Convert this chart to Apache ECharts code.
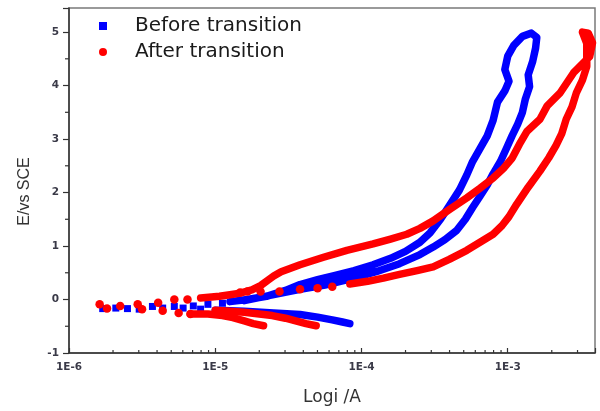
<!DOCTYPE html>
<html>
<head>
<meta charset="utf-8">
<script src="https://cdn.jsdelivr.net/npm/echarts@6/dist/echarts.min.js"></script>
<style>html,body{margin:0;padding:0;background:#fff;}#c{width:600px;height:411px;}</style>
</head>
<body>
<div id="c"></div>
<script>
// ---- data: [current (A), potential (V vs SCE)] ----
const seriesNames = ['Before transition', 'After transition'];

const beforeDots = [[1.70e-6,-0.17],[2.09e-6,-0.16],[2.51e-6,-0.17],[3.02e-6,-0.18],[3.72e-6,-0.13],[4.37e-6,-0.16],
  [5.25e-6,-0.13],[6.03e-6,-0.16],[7.08e-6,-0.12],[7.94e-6,-0.18],[8.91e-6,-0.09],[1.12e-5,-0.07]];
const beforeCathodic = [[1.0e-5,-0.2],[1.58e-5,-0.22],[2.51e-5,-0.25],[3.80e-5,-0.28],[5.01e-5,-0.33],
  [6.31e-5,-0.38],[7.41e-5,-0.42],[8.32e-5,-0.45]];
const beforeLoop = [[1.26e-5,-0.04],[1.66e-5,0.0],[2.24e-5,0.06],[3.02e-5,0.17],[3.80e-5,0.28],[5.01e-5,0.37],
  [6.61e-5,0.45],[8.91e-5,0.54],[1.20e-4,0.65],[1.58e-4,0.77],[2.00e-4,0.9],[2.51e-4,1.07],[2.95e-4,1.25],
  [3.47e-4,1.5],[3.98e-4,1.75],[4.68e-4,2.05],[5.25e-4,2.33],[5.75e-4,2.58],[6.46e-4,2.82],[7.24e-4,3.06],
  [7.94e-4,3.35],[8.51e-4,3.69],[9.55e-4,3.9],[1.02e-3,4.08],[9.55e-4,4.3],[1.00e-3,4.55],[1.10e-3,4.75],
  [1.26e-3,4.92],[1.45e-3,4.98],[1.58e-3,4.9],[1.55e-3,4.7],[1.48e-3,4.45],[1.38e-3,4.2],[1.41e-3,3.98],
  [1.32e-3,3.75],[1.26e-3,3.5],[1.17e-3,3.28],[1.07e-3,3.06],[9.77e-4,2.82],[8.91e-4,2.58],[7.94e-4,2.35],
  [7.24e-4,2.14],[6.46e-4,1.93],[5.75e-4,1.72],[5.13e-4,1.5],[4.47e-4,1.29],[3.72e-4,1.12],[3.09e-4,0.98],
  [2.51e-4,0.84],[1.82e-4,0.67],[1.26e-4,0.52],[8.32e-5,0.38],[5.62e-5,0.27],[3.80e-5,0.19],[2.51e-5,0.09],
  [1.58e-5,-0.02]];

const afterDots = [[1.62e-6,-0.09],[1.82e-6,-0.17],[2.24e-6,-0.12],[2.95e-6,-0.09],[3.16e-6,-0.18],
  [4.07e-6,-0.06],[4.37e-6,-0.21],[5.25e-6,0.0],[5.62e-6,-0.25],[6.46e-6,0.0],[6.76e-6,-0.27],
  [1.48e-5,0.13],[1.66e-5,0.15],[2.04e-5,0.15],[2.75e-5,0.15],[3.80e-5,0.19],[5.01e-5,0.21],[6.31e-5,0.24]];
const afterLoop = [[7.94e-6,0.03],[1.07e-5,0.06],[1.26e-5,0.09],[1.48e-5,0.12],[1.78e-5,0.18],[2.04e-5,0.26],
  [2.29e-5,0.36],[2.51e-5,0.44],[2.82e-5,0.52],[3.24e-5,0.58],[3.80e-5,0.65],[4.57e-5,0.72],[5.50e-5,0.79],
  [7.94e-5,0.92],[1.20e-4,1.04],[1.58e-4,1.13],[2.04e-4,1.22],[2.51e-4,1.33],[3.09e-4,1.47],[3.98e-4,1.68],
  [5.25e-4,1.9],[6.46e-4,2.08],[7.94e-4,2.27],[9.33e-4,2.45],[1.07e-3,2.64],[1.20e-3,2.9],[1.35e-3,3.14],
  [1.66e-3,3.37],[1.86e-3,3.62],[2.29e-3,3.87],[2.82e-3,4.24],[3.63e-3,4.54],[3.80e-3,4.8],[3.55e-3,4.98],
  [3.24e-3,5.0],[3.47e-3,4.79],[3.47e-3,4.36],[3.24e-3,4.1],[2.95e-3,3.87],[2.75e-3,3.6],[2.51e-3,3.37],
  [2.34e-3,3.1],[2.14e-3,2.88],[1.91e-3,2.65],[1.66e-3,2.4],[1.38e-3,2.1],[1.15e-3,1.78],[1.02e-3,1.55],
  [9.12e-4,1.38],[7.94e-4,1.22],[6.46e-4,1.07],[5.25e-4,0.92],[3.98e-4,0.75],[3.09e-4,0.61],[2.40e-4,0.54],
  [1.82e-4,0.47],[1.41e-4,0.40],[1.10e-4,0.34],[8.32e-5,0.29]];
const afterCathodic1 = [[6.76e-6,-0.27],[8.91e-6,-0.27],[1.12e-5,-0.3],[1.32e-5,-0.34],[1.58e-5,-0.4],
  [1.82e-5,-0.45],[2.14e-5,-0.49]];
const afterCathodic2 = [[1.0e-5,-0.2],[1.26e-5,-0.22],[1.58e-5,-0.24],[2.0e-5,-0.27],[2.45e-5,-0.3],
  [3.02e-5,-0.35],[3.55e-5,-0.4],[4.17e-5,-0.45],[4.90e-5,-0.49]];

const xMinorTicks = [2e-6,3e-6,4e-6,5e-6,6e-6,7e-6,8e-6,9e-6,2e-5,3e-5,4e-5,5e-5,6e-5,7e-5,8e-5,9e-5,
  2e-4,3e-4,4e-4,5e-4,6e-4,7e-4,8e-4,9e-4,2e-3,3e-3];
const yMinorTicks = [-0.5,0.5,1.5,2.5,3.5,4.5];

const xMin = 1e-6, xMax = 3.95e-3, yMin = -1, yMax = 5.45;

// ---- chart ----
const BLUE = '#0000ff', RED = '#ff0000';
const chart = echarts.init(document.getElementById('c'), null, {renderer: 'canvas'});
const lbl = {fontFamily: 'DejaVu Sans', fontSize: 10.5, fontWeight: 'bold', color: '#3a3a48'};
function lineSeries(name, data, color) {
  return {name, type: 'line', data, showSymbol: false, symbol: 'none', smooth: false,
    color, lineStyle: {color, width: 7.5, cap: 'round', join: 'round'}, silent: true, z: 3};
}
chart.setOption({
  animation: false,
  grid: {left: 69, right: 5, top: 8, bottom: 55, show: true, borderColor: '#7a7a7a', borderWidth: 1.5},
  legend: {
    orient: 'vertical', left: 99, top: 15, padding: 0, itemWidth: 8, itemHeight: 8, itemGap: 4,
    data: [{name: seriesNames[0], icon: 'rect'}, {name: seriesNames[1], icon: 'circle'}],
    textStyle: {fontFamily: 'DejaVu Sans', fontSize: 20, color: '#1a1a1a', lineHeight: 22, padding: [0, 0, 0, 23]}
  },
  xAxis: {
    type: 'log', logBase: 10, min: xMin, max: xMax,
    name: 'Logi /A', nameLocation: 'middle', nameGap: 36,
    nameTextStyle: {fontFamily: 'DejaVu Sans', fontSize: 17, color: '#333'},
    axisLine: {onZero: false, lineStyle: {color: '#333', width: 1.5}},
    axisTick: {inside: true, length: 5, lineStyle: {color: '#333', width: 1.2}},
    axisLabel: Object.assign({margin: 9, formatter: v => {
      const l = Math.log10(v), e = Math.round(l);
      return Math.abs(l - e) < 1e-6 ? '1E' + e : '';
    }}, lbl),
    splitLine: {show: false}
  },
  yAxis: {
    type: 'value', min: yMin, max: yMax, interval: 1,
    name: 'E/vs SCE', nameLocation: 'middle', nameGap: 36,
    nameTextStyle: {fontFamily: 'Liberation Sans', fontSize: 16, color: '#333', padding: [0, 22, 0, 0]},
    axisLine: {onZero: false, lineStyle: {color: '#333', width: 1.5}},
    axisTick: {inside: false, length: 6, lineStyle: {color: '#333', width: 1.2}},
    axisLabel: Object.assign({margin: 10, formatter: v => Number.isInteger(v) ? String(v) : ''}, lbl),
    splitLine: {show: false}
  },
  series: [
    {name: seriesNames[0], type: 'scatter', data: beforeDots, symbol: 'rect', symbolSize: 7, color: BLUE,
      itemStyle: {color: BLUE, opacity: 1}, z: 3, silent: true},
    lineSeries(seriesNames[0], beforeCathodic, BLUE),
    lineSeries(seriesNames[0], beforeLoop, BLUE),
    {name: seriesNames[1], type: 'scatter', data: afterDots, symbol: 'circle', symbolSize: 8.5, color: RED,
      itemStyle: {color: RED, opacity: 1}, z: 4, silent: true},
    Object.assign(lineSeries(seriesNames[1], afterLoop, RED), {z: 4}),
    Object.assign(lineSeries(seriesNames[1], afterCathodic1, RED), {z: 4}),
    Object.assign(lineSeries(seriesNames[1], afterCathodic2, RED), {z: 4}),
    {type: 'custom', silent: true, clip: false, z: 5, data: xMinorTicks.map(v => [v, yMin]),
      renderItem: (p, api) => {
        const c = api.coord([api.value(0), api.value(1)]);
        return {type: 'line', shape: {x1: c[0], y1: c[1], x2: c[0], y2: c[1] - 3}, style: {stroke: '#333', lineWidth: 1.2}};
      }},
    {type: 'custom', silent: true, clip: false, z: 5, data: yMinorTicks.map(v => [xMin, v]),
      renderItem: (p, api) => {
        const c = api.coord([api.value(0), api.value(1)]);
        return {type: 'line', shape: {x1: c[0] - 4, y1: c[1], x2: c[0], y2: c[1]}, style: {stroke: '#333', lineWidth: 1.2}};
      }}
  ]
});
</script>
</body>
</html>
